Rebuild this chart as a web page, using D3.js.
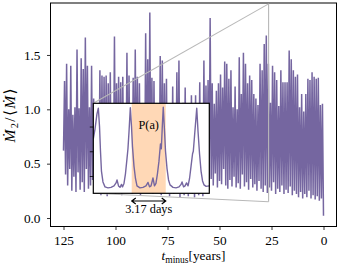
<!DOCTYPE html>
<html>
<head>
<meta charset="utf-8">
<script src="https://cdn.jsdelivr.net/npm/d3@7"></script>
<style>
  body { margin: 0; background: #fff; }
  svg { display: block; }
  text { font-family: "Liberation Serif", "DejaVu Serif", serif; fill: #000; }
</style>
</head>
<body>
<div id="chart"></div>
<script>
// main series: accretion rate ratio, sampled every half year from t_minus = 125 down to 0
const tStart = 125, tStep = 0.5;
const mdotRatio = [
  0.62,1.26, 0.40,1.42, 0.30,1.00, 0.45,1.40, 0.25,0.95,
  0.38,1.02, 0.24,1.55, 0.42,1.01, 0.26,1.47, 0.33,1.37,
  0.24,1.66, 0.45,1.40, 0.27,1.02, 0.30,1.40, 0.35,1.10,
  0.28,0.98, 0.22,1.04, 0.30,1.36, 0.21,1.31, 0.26,1.30,
  0.33,1.31, 0.20,1.24, 0.27,1.34, 0.24,0.96, 0.31,1.67,
  0.22,1.24, 0.28,1.30, 0.25,1.25, 0.21,1.30, 0.30,1.02,
  0.26,1.52, 0.23,1.31, 0.29,0.94, 0.22,1.29, 0.27,1.55,
  0.31,1.30, 0.24,1.24, 0.21,1.03, 0.28,0.97, 0.25,1.70,
  0.30,1.46, 0.23,1.89, 0.26,1.29, 0.22,1.26, 0.29,1.05,
  0.24,0.92, 0.27,1.49, 0.21,1.45, 0.25,1.24, 0.30,1.28,
  0.23,1.00, 0.20,0.95, 0.27,1.21, 0.22,1.04, 0.26,1.34,
  0.24,1.45, 0.19,0.97, 0.28,1.06, 0.21,1.20, 0.25,0.93,
  0.20,1.03, 0.27,1.13, 0.22,0.98, 0.19,1.13, 0.26,1.02,
  0.21,1.25, 0.24,0.96, 0.20,1.45, 0.27,1.22, 0.32,1.27,
  0.29,1.84, 0.36,1.24, 0.30,1.05, 0.41,1.17, 0.28,1.24,
  0.34,1.32, 0.31,1.20, 0.45,1.44, 0.30,1.42, 0.27,1.28,
  0.35,1.36, 0.29,1.02, 0.38,1.21, 0.28,1.00, 0.32,1.48,
  0.27,1.14, 0.40,1.52, 0.29,1.42, 0.33,1.24, 0.26,1.31,
  0.36,1.27, 0.28,1.14, 0.31,1.10, 0.25,1.04, 0.34,1.42,
  0.27,1.36, 0.24,1.60, 0.30,1.68, 0.23,1.42, 0.28,1.06,
  0.25,1.40, 0.33,1.34, 0.22,1.27, 0.27,1.03, 0.24,1.36,
  0.30,1.25, 0.22,1.25, 0.26,1.25, 0.23,1.54, 0.29,1.46,
  0.21,1.36, 0.25,1.30, 0.22,1.32, 0.19,1.02, 0.24,1.14,
  0.18,0.98, 0.22,1.14, 0.19,1.28, 0.25,1.27, 0.18,1.34,
  0.21,1.30, 0.17,1.28, 0.20,1.29, 0.16,1.04, 0.18,1.05,
  0.02
];
const xTicks = [125, 100, 75, 50, 25, 0];
const yTicks = [0, 0.5, 1.0, 1.5];

// zoomed window (a few days around t_minus ~ 26.4 yr)
const zoomYear = 26.4;
const insetYRange = [0.15, 1.97];
const insetDays = [0.00,0.16,0.34,0.47,0.58,0.67,0.76,0.90,1.09,1.37,1.65,1.93,2.12,2.21,2.35,2.49,2.63,2.72,2.86,3.00,
  3.14,3.23,3.33,3.45,3.56,3.65,3.79,3.93,4.07,4.35,4.63,4.91,5.10,5.24,5.38,5.56,5.70,5.84,5.98,6.12,
  6.26,6.34,6.43,6.52,6.64,6.73,6.87,7.01,7.15,7.43,7.71,7.99,8.18,8.27,8.41,8.55,8.69,8.83,8.97,9.11,
  9.25,9.32,9.43,9.64,9.76,9.90,10.04,10.18,10.32,10.51,10.81];
const insetVals = [1.25,1.45,1.75,1.87,1.50,1.00,0.60,0.38,0.28,0.26,0.27,0.30,0.36,0.42,0.30,0.27,0.33,0.28,0.35,0.55,
  0.85,1.05,1.40,1.88,1.50,1.10,0.70,0.45,0.30,0.26,0.27,0.30,0.37,0.28,0.30,0.46,0.30,0.35,0.55,0.80,
  1.15,1.05,1.50,1.89,1.40,1.00,0.65,0.42,0.32,0.27,0.26,0.28,0.33,0.38,0.28,0.30,0.36,0.30,0.45,0.70,
  0.95,1.00,1.30,1.87,1.40,0.95,0.60,0.40,0.32,0.29,0.30];
const insetYTicks = [0.5, 1.0, 1.5];
const periodWindow = [3.58, 6.75];
const periodText = "3.17 days";
const peakLabel = "P(a)";

const W = 338, H = 270;
const m = {left: 50.5, right: 336.5, top: 3, bottom: 226.5};
const lineColor = "#7566a0";

const svg = d3.select("#chart").append("svg")
  .attr("width", W).attr("height", H);

const x = d3.scaleLinear().domain([131.25, -6.25]).range([m.left, m.right]);
const y = d3.scaleLinear().domain([-0.078, 1.978]).range([m.bottom, m.top]);

svg.append("clipPath").attr("id", "clipMain")
  .append("rect")
  .attr("x", m.left).attr("y", m.top)
  .attr("width", m.right - m.left).attr("height", m.bottom - m.top);

const line = d3.line()
  .x((d, i) => x(tStart - i * tStep))
  .y(d => y(d));

svg.append("path")
  .datum(mdotRatio)
  .attr("clip-path", "url(#clipMain)")
  .attr("fill", "none")
  .attr("stroke", lineColor)
  .attr("stroke-width", 1.5)
  .attr("stroke-linejoin", "miter")
  .attr("d", line);

// axes
const xAxis = svg.append("g")
  .attr("transform", `translate(0,${m.bottom})`)
  .call(d3.axisBottom(x).tickValues(xTicks).tickSize(3.5).tickPadding(6).tickFormat(d3.format("d")));
const yAxis = svg.append("g")
  .attr("transform", `translate(${m.left},0)`)
  .call(d3.axisLeft(y).tickValues(yTicks).tickSize(3.5).tickPadding(6.5).tickFormat(d3.format(".1f")));
[xAxis, yAxis].forEach(g => {
  g.select(".domain").remove();
  g.selectAll(".tick line").attr("stroke", "#000").attr("stroke-width", 0.8);
  g.selectAll(".tick text").style("font-size", "13.3px").style("font-family", "'Liberation Serif', serif");
});

svg.append("rect")
  .attr("x", m.left).attr("y", m.top)
  .attr("width", m.right - m.left).attr("height", m.bottom - m.top)
  .attr("fill", "none").attr("stroke", "#000").attr("stroke-width", 1);

// inset box position
const ib = {left: 93.3, top: 103.3, w: 116, h: 90};

// zoom marker and connectors
const zx = x(zoomYear);
const gMark = svg.append("g").attr("stroke", "#b8b8b8").attr("stroke-width", 1.1).attr("fill", "none");
gMark.append("line").attr("x1", zx).attr("x2", zx).attr("y1", y(insetYRange[0])).attr("y2", y(insetYRange[1]));
gMark.append("line").attr("x1", ib.left).attr("y1", ib.top).attr("x2", zx).attr("y2", y(insetYRange[1]));
gMark.append("line").attr("x1", ib.left).attr("y1", ib.top + ib.h).attr("x2", zx).attr("y2", y(insetYRange[0]));

// inset
const xi = d3.scaleLinear().domain([0, 10.81]).range([0, ib.w]);
const yi = d3.scaleLinear().domain(insetYRange).range([ib.h, 0]);
const inset = svg.append("g").attr("transform", `translate(${ib.left},${ib.top})`);

inset.append("rect").attr("width", ib.w).attr("height", ib.h).attr("fill", "#fff");
inset.append("rect")
  .attr("x", xi(periodWindow[0])).attr("y", 0)
  .attr("width", xi(periodWindow[1]) - xi(periodWindow[0])).attr("height", ib.h)
  .attr("fill", "rgb(255,127,14)").attr("fill-opacity", 0.3);

inset.append("clipPath").attr("id", "clipInset")
  .append("rect").attr("width", ib.w).attr("height", ib.h);
inset.append("path")
  .datum(d3.zip(insetDays, insetVals))
  .attr("clip-path", "url(#clipInset)")
  .attr("fill", "none")
  .attr("stroke", lineColor)
  .attr("stroke-width", 1.4)
  .attr("stroke-linejoin", "round")
  .attr("d", d3.line().x(d => xi(d[0])).y(d => yi(d[1])));

inset.append("g")
  .call(d3.axisLeft(yi).tickValues(insetYTicks).tickSize(3.5).tickFormat(""))
  .call(g => g.select(".domain").remove())
  .selectAll(".tick line").attr("stroke", "#000").attr("stroke-width", 0.8);

inset.append("rect").attr("width", ib.w).attr("height", ib.h)
  .attr("fill", "none").attr("stroke", "#000").attr("stroke-width", 1.2);

inset.append("text")
  .attr("x", xi((periodWindow[0] + periodWindow[1]) / 2)).attr("y", 26)
  .attr("text-anchor", "middle").style("font-size", "12.3px")
  .text(peakLabel);

// period arrow
const ay = ib.h + 7.7;
const ax0 = xi(periodWindow[0]), ax1 = xi(periodWindow[1]);
inset.append("path")
  .attr("fill", "none").attr("stroke", "#000").attr("stroke-width", 1.2)
  .attr("d", `M${ax0},${ay}H${ax1}M${ax0 + 4},${ay - 3}L${ax0},${ay}L${ax0 + 4},${ay + 3}M${ax1 - 4},${ay - 3}L${ax1},${ay}L${ax1 - 4},${ay + 3}`);
inset.append("text")
  .attr("x", (ax0 + ax1) / 2).attr("y", ib.h + 20.2)
  .attr("text-anchor", "middle").style("font-size", "12.3px")
  .text(periodText);

// axis labels
const xl = svg.append("text")
  .attr("x", (m.left + m.right) / 2).attr("y", 260)
  .attr("text-anchor", "middle").style("font-size", "13.3px");
xl.append("tspan").style("font-style", "italic").text("t");
xl.append("tspan").attr("dy", 2.5).style("font-size", "9.5px").text("minus");
xl.append("tspan").attr("dy", -2.5).text("[years]");

const yl = svg.append("text")
  .attr("transform", `translate(15,${(m.top + m.bottom) / 2}) rotate(-90)`)
  .attr("text-anchor", "middle").style("font-size", "15.5px").style("letter-spacing", "1.3px");
yl.append("tspan").style("font-style", "italic").text("Ṁ");
yl.append("tspan").attr("dy", 2.5).style("font-size", "10.5px").text("2");
yl.append("tspan").attr("dy", -2.5).text("/⟨");
yl.append("tspan").style("font-style", "italic").text("Ṁ");
yl.append("tspan").text("⟩");
</script>
</body>
</html>
